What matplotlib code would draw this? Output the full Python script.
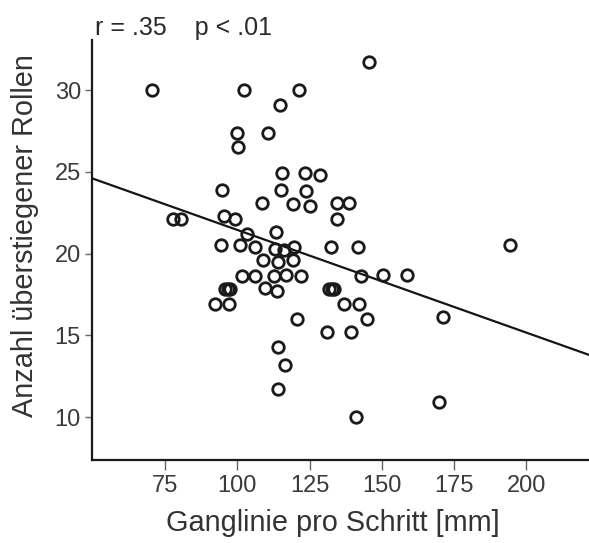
import matplotlib
matplotlib.use("Agg")
import matplotlib.pyplot as plt

# Data (Ganglinie pro Schritt [mm], Anzahl überstiegener Rollen)
x_mm = [70.5, 102.3, 121.4, 145.6, 114.8, 99.9, 100.2, 110.6, 115.3, 123.4,
        128.6, 94.6, 115.1, 123.8, 108.4, 119.3, 125.3, 134.4, 138.8, 134.6,
        77.7, 80.5, 95.4, 99.2, 103.3, 113.5, 94.2, 100.8, 106.1, 112.9,
        116.2, 119.7, 132.4, 141.7, 194.2, 108.9, 114.2, 119.2, 101.5, 106.0,
        112.8, 117.0, 121.9, 142.8, 150.5, 158.7, 95.7, 96.6, 97.5, 109.4,
        113.7, 131.6, 132.6, 133.6, 92.3, 97.0, 136.8, 142.0, 120.6, 144.8,
        171.2, 131.2, 139.5, 114.1, 116.6, 114.1, 169.9, 141.1]
rollen = [30.0, 30.0, 30.0, 31.7, 29.1, 27.4, 26.5, 27.4, 24.9, 24.9,
          24.8, 23.9, 23.9, 23.8, 23.1, 23.0, 22.9, 23.1, 23.1, 22.1,
          22.1, 22.1, 22.3, 22.1, 21.2, 21.3, 20.5, 20.5, 20.4, 20.3,
          20.2, 20.4, 20.4, 20.4, 20.5, 19.6, 19.5, 19.6, 18.6, 18.6,
          18.6, 18.7, 18.6, 18.6, 18.7, 18.7, 17.8, 17.8, 17.8, 17.9,
          17.7, 17.8, 17.8, 17.8, 16.9, 16.9, 16.9, 16.9, 16.0, 16.0,
          16.1, 15.2, 15.2, 14.3, 13.2, 11.7, 10.9, 10.0]

# Regression line end points
fit_x = [49.7, 221.7]
fit_y = [24.6, 13.8]

x_ticks = [75, 100, 125, 150, 175, 200]
y_ticks = [10, 15, 20, 25, 30]
x_label = "Ganglinie pro Schritt [mm]"
y_label = "Anzahl überstiegener Rollen"
stat_text = "r = .35    p < .01"

plt.rcParams['font.family'] = ['Liberation Sans', 'DejaVu Sans']

fig = plt.figure(figsize=(5.89, 5.43), dpi=100)
ax = fig.add_axes([92/589, (543-460)/543, 1 - 92/589, (460-40)/543])

ax.plot(fit_x, fit_y, color='#151515', lw=1.6, zorder=2)
ax.plot(x_mm, rollen, linestyle='none', marker='o', ms=8.3, mew=2.0,
        mfc='none', mec='#1a1a1a', zorder=3)

ax.set_xlim(49.7, 221.7)
ax.set_ylim(7.37, 33.06)
ax.set_xticks(x_ticks)
ax.set_yticks(y_ticks)

for s in ['top', 'right']:
    ax.spines[s].set_visible(False)
for s in ['left', 'bottom']:
    ax.spines[s].set_linewidth(1.6)
    ax.spines[s].set_color('#1a1a1a')

ax.tick_params(axis='x', length=7, width=1, color='#666666', pad=4,
               labelsize=17, labelcolor='#3a3a3a')
ax.tick_params(axis='y', length=5, width=1, color='#666666', pad=3,
               labelsize=17, labelcolor='#3a3a3a')

ax.set_xlabel(x_label, fontsize=20.8, color='#333333')
ax.set_ylabel(y_label, fontsize=20.8, color='#333333')
ax.xaxis.set_label_coords((333-92)/497, (460-509)/420)
ax.yaxis.set_label_coords((39-92)/497, (460-236)/420)

fig.text(95/589, 1 - 28/543, stat_text, fontsize=18, color='#2a2a2a',
         ha='left', va='center')

fig.savefig("out.png", dpi=100)
